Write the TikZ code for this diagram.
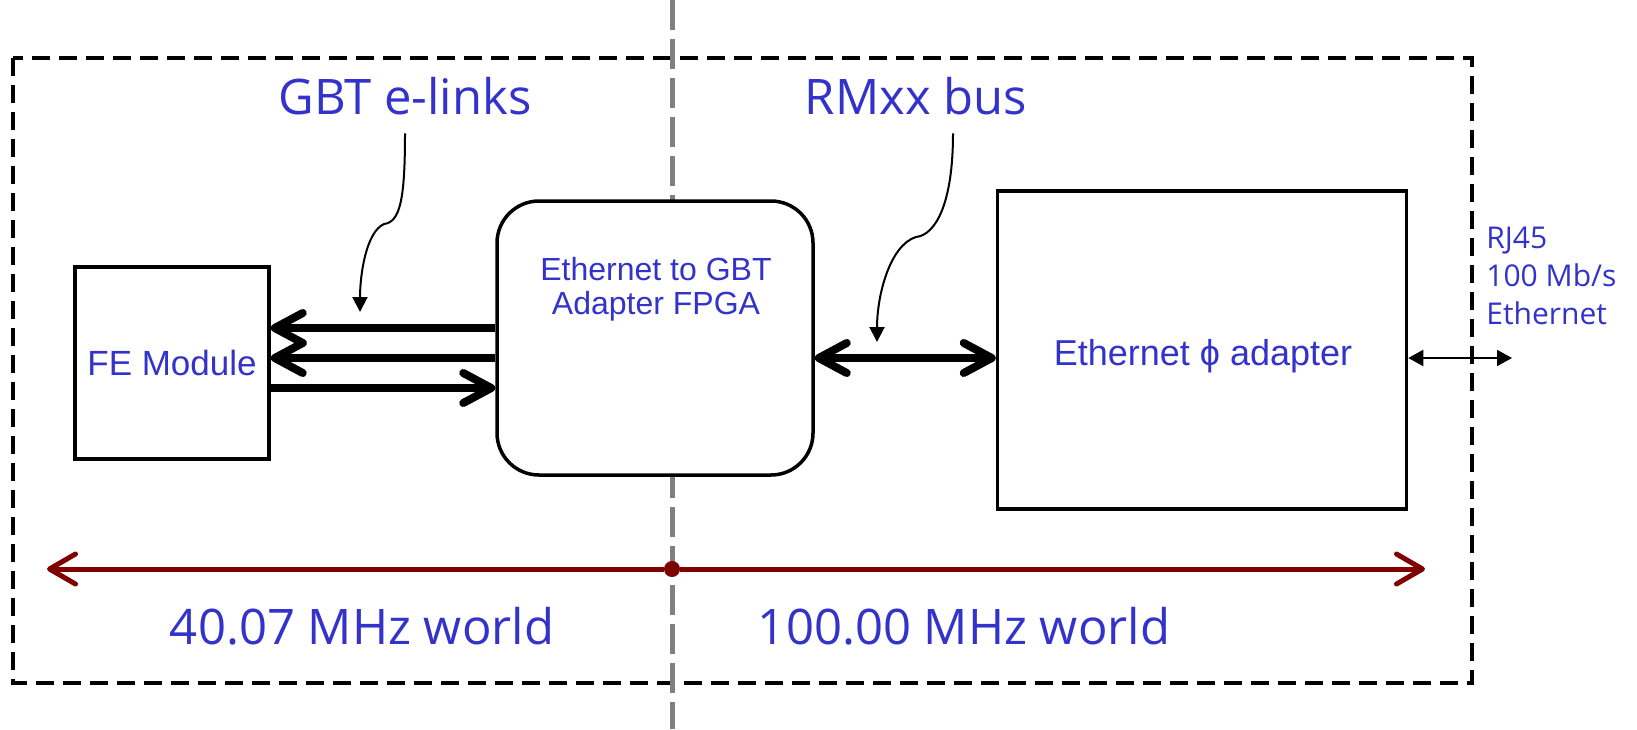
\documentclass[tikz,border=0pt]{standalone}
\usepackage{fontspec}
\setmainfont{Liberation Sans}
\newfontfamily\handfont{Open Sans}
\usetikzlibrary{arrows.meta}
\definecolor{labelblue}{RGB}{51,51,204}
\definecolor{clockred}{RGB}{128,0,0}

\begin{document}
\begin{tikzpicture}[x=0.5pt, y=-0.5pt,
		box/.style={draw, line width=1.75pt, fill=white, inner sep=0pt},
		boxtext/.style={text=labelblue, align=center, inner sep=0pt},
		handtext/.style={text=labelblue, inner sep=0pt, font=\handfont\fontsize{24.5pt}{28pt}\selectfont},
		smalltext/.style={text=labelblue, inner sep=0pt, align=left, font=\handfont\fontsize{15pt}{19pt}\selectfont},
		bigarrow/.style={line width=4pt, -{Straight Barb[round, length=14pt, width=15pt]}},
		busarrow/.style={line width=4pt, {Straight Barb[round, length=14pt, width=15pt]}-{Straight Barb[round, length=14pt, width=15pt]}},
		pointer/.style={line width=1pt, -{Triangle[length=7.5pt, width=7.5pt]}},
		plugarrow/.style={line width=1pt, {Triangle[length=7.5pt, width=8pt]}-{Triangle[length=7.5pt, width=8pt]}},
		clockarrow/.style={line width=2.5pt, clockred, -{Straight Barb[round, length=13pt, width=15pt]}},
		frame/.style={line width=2pt, dash pattern=on 9pt off 4.5pt},
		divider/.style={line width=2.5pt, gray, dash pattern=on 15pt off 4.5pt}]
		\useasboundingbox[fill=white] (0,0) rectangle (1637,729);
		
		% board outline and clock domain border
		\draw[frame] (13,58) rectangle (1472,683);
		\coordinate (divtop) at (672,0);
		\coordinate (divbot) at (672,729);
		\draw[divider] (divtop) -- (divbot);
		
		\node[box, minimum width=97pt, minimum height=96pt, font=\fontsize{17.5pt}{20pt}\selectfont, text=labelblue]	(fe) at (172,363) {FE Module};
		\node[box, rounded corners=21pt, minimum width=158pt, minimum height=137pt]	(fpga) at (655,338) {};
		\node[boxtext, font=\fontsize{16pt}{17pt}\selectfont]	(fpgatext) at (656,289) {Ethernet to GBT\\Adapter FPGA};
		\node[box, minimum width=204.5pt, minimum height=159pt]	(phy) at (1202,350) {};
		\node[boxtext, font=\fontsize{18pt}{20pt}\selectfont]	(phytext) at (1203,356) {Ethernet ϕ adapter};
		
		\node[handtext]		(elinks) at (405,96) {GBT e-links};
		\node[handtext]		(rmxx) at (916,96) {RMxx bus};
		\node[smalltext, anchor=west]	(rj45) at (1486,276) {RJ45\\100 Mb/s\\Ethernet};
		\node[handtext]		(slowworld) at (362,626) {40.07 MHz world};
		\node[handtext]		(fastworld) at (964,626) {100.00 MHz world};
		
		\coordinate (elinkstip) at (360,312);
		\coordinate (rmxxtip) at (877,342);
		\coordinate (rjend) at (1512,358);
		\coordinate (slowend) at (47,569);
		\coordinate (fastend) at (1425,569);
		\node[circle, fill=clockred, inner sep=0pt, minimum size=8pt]	(split) at (672,569) {};
		
		\draw[bigarrow] ([yshift=5pt]fpga.west) -- ([yshift=5pt]fpga.west -| fe.east);
		\draw[bigarrow] ([yshift=-10pt]fpga.west) -- ([yshift=-10pt]fpga.west -| fe.east);
		\draw[bigarrow] ([yshift=-25pt]fpga.west -| fe.east) -- ([yshift=-25pt]fpga.west);
		\draw[busarrow] ([yshift=-10pt]fpga.east) -- ([yshift=-10pt]fpga.east -| phy.west);
		\draw[plugarrow] ([yshift=-4pt]phy.east) -- (rjend);
		
		\draw[pointer] ([yshift=-9pt]elinks.south) .. controls (405,200) and (400,222) .. (384,224)
			.. controls (366,232) and (360,275) .. (elinkstip);
		\draw[pointer] ([yshift=-9pt]rmxx.south -| 953,0) .. controls (953,205) and (935,235) .. (916,237)
			.. controls (890,245) and (877,295) .. (rmxxtip);
		
		\draw[clockarrow] (split) -- (slowend);
		\draw[clockarrow] (split) -- (fastend);
	\end{tikzpicture}
\end{document}
